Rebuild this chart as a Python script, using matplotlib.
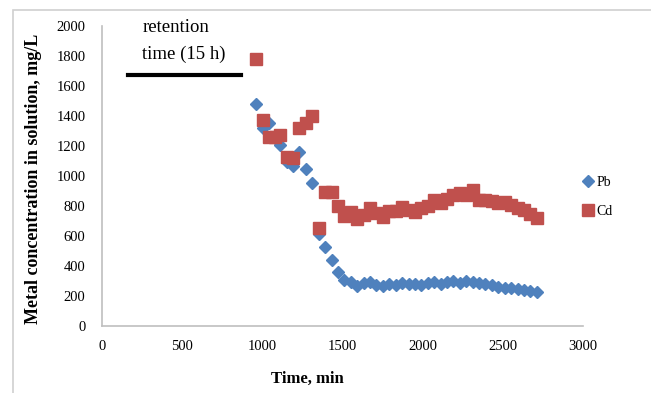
import numpy as np
import matplotlib.pyplot as plt
from matplotlib.patches import Rectangle

# sampling times (min)
time_min = [960, 1000, 1040, 1080, 1110, 1150, 1190, 1230, 1270, 1310, 1350,
            1390, 1430, 1470, 1510, 1550, 1590, 1630, 1670, 1710, 1750, 1790,
            1830, 1870, 1910, 1950, 1990, 2030, 2070, 2110, 2150, 2190, 2230,
            2270, 2310, 2350, 2390, 2430, 2470, 2510, 2550, 2590, 2630, 2670,
            2710]

pb = [1480, 1320, 1355, 1250, 1207, 1096, 1065, 1158, 1045, 955, 610,
      529, 440, 362, 307, 295, 267, 285, 295, 273, 267, 280,
      273, 285, 280, 280, 270, 285, 290, 280, 295, 300, 285,
      300, 295, 285, 280, 270, 262, 255, 250, 245, 240, 232,
      225]

cd = [1780, 1370, 1262, 1262, 1270, 1129, 1118, 1318, 1356, 1400, 656,
      890, 890, 800, 730, 760, 711, 740, 784, 756, 729, 769,
      769, 796, 773, 762, 784, 800, 840, 818, 845, 873, 884,
      870, 907, 840, 840, 835, 818, 829, 807, 784, 770, 745,
      720]

retention_x = [160, 865]
retention_y = 1675

serif = ['Liberation Serif', 'DejaVu Serif']
plt.rcParams['font.family'] = serif

fig = plt.figure(figsize=(6.51, 3.93), dpi=100)
fig.patches.append(Rectangle((13 / 651, -0.1), 1.2, 1.1 - 10 / 393,
                             transform=fig.transFigure, fill=False,
                             edgecolor='#d0d0d0', linewidth=1.2))
ax = fig.add_axes([0.157, 0.1705, 0.739, 0.7634])

ax.plot(time_min, pb, 'D', color='#4F81BD', markersize=6, label='Pb',
        linestyle='none')
ax.plot(time_min, cd, 's', color='#C0504D', markersize=8, label='Cd',
        linestyle='none')

ax.plot(retention_x, [retention_y, retention_y], color='black', linewidth=3)
ax.text(250, 2045, 'retention\ntime (15 h)', fontsize=13.5, va='top',
        ha='left', linespacing=1.7)

ax.set_xlim(0, 3000)
ax.set_ylim(0, 2000)
ax.set_xticks(np.arange(0, 3001, 500))
ax.set_yticks(np.arange(0, 2001, 200))
ax.tick_params(length=0, labelsize=10.5, pad=12)
ax.tick_params(axis='x', pad=10)
for s in ['top', 'right']:
    ax.spines[s].set_visible(False)
for s in ['left', 'bottom']:
    ax.spines[s].set_color('#bfbfbf')
    ax.spines[s].set_linewidth(1.2)

ax.set_xlabel('Time, min', fontsize=12, fontweight='bold')
ax.xaxis.set_label_coords(0.426, -0.15)
ax.set_ylabel('Metal concentration in solution, mg/L', fontsize=13,
              fontweight='bold')
ax.yaxis.set_label_coords(-0.125, 0.49)

ax.legend(loc='center left', bbox_to_anchor=(0.97, 0.43), frameon=False,
          fontsize=10, handletextpad=0.1, handlelength=1.0, labelspacing=1.1)

plt.savefig('out.png', dpi=100)
